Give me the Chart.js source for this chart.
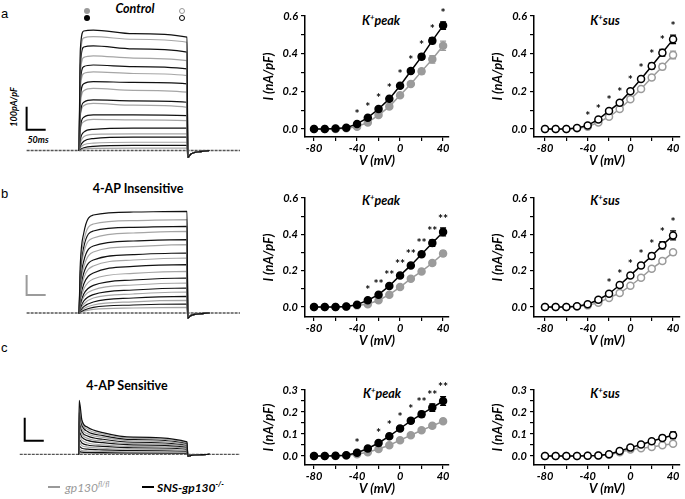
<!DOCTYPE html>
<html>
<head>
<meta charset="utf-8">
<script src="https://cdn.jsdelivr.net/npm/chart.js@4.4.1/dist/chart.umd.min.js"></script>
<style>
  body { margin: 0; background: #fff; }
  #fig { position: relative; width: 685px; height: 499px; overflow: hidden; background: #fff; font-family: Lato, "Open Sans", sans-serif; }
  canvas { position: absolute; }
  .t { position: absolute; white-space: nowrap; transform: translate(-50%, -50%); font-weight: bold; color: #000; }
  .it { font-style: italic; }
  .panel { position: absolute; font-family: "Liberation Sans", sans-serif; font-size: 13px; transform: translateY(-50%); }
  .dot { position: absolute; width: 6px; height: 6px; border-radius: 50%; box-sizing: border-box; }
  .legline { position: absolute; height: 2px; }
  sup { font-size: 0.62em; vertical-align: 0.55em; line-height: 0; }
</style>
</head>
<body>
<div id="fig">
  <div class="panel" style="left:1px;top:13px">a</div>
  <div class="panel" style="left:1px;top:193px">b</div>
  <div class="panel" style="left:1px;top:347px">c</div>

  <div class="t it" style="left:135px;top:8px;font-size:12.5px">Control</div>
  <div class="dot" style="left:84px;top:8px;background:#999"></div>
  <div class="dot" style="left:84px;top:15px;background:#000"></div>
  <div class="dot" style="left:179px;top:8px;border:1.5px solid #999;background:#fff"></div>
  <div class="dot" style="left:179px;top:15px;border:1.5px solid #000;background:#fff"></div>
  <div class="t it" style="left:13px;top:107px;font-size:9px;transform:translate(-50%,-50%) rotate(-90deg)">100pA/pF</div>
  <div class="t it" style="left:38px;top:139px;font-size:9px">50ms</div>

  <div class="t" style="left:138px;top:188px;font-size:12.5px">4-AP Insensitive</div>
  <div class="t" style="left:127px;top:385px;font-size:12.5px">4-AP Sensitive</div>

  <div class="legline" style="left:48px;top:486px;width:12px;background:#999"></div>
  <div class="t it" style="left:65px;top:487px;transform:translateY(-50%);font-size:12px;font-weight:normal;color:#999">gp130<sup>fl/fl</sup></div>
  <div class="legline" style="left:142px;top:486px;width:12px;background:#000"></div>
  <div class="t it" style="left:157px;top:487px;transform:translateY(-50%);font-size:12px">SNS-gp130<sup>-/-</sup></div>

  <div class="t it" style="left:381px;top:20px;font-size:12.5px">K<sup>+</sup>peak</div>
  <div class="t it" style="left:605px;top:20px;font-size:12.5px">K<sup>+</sup>sus</div>
  <div class="t it" style="left:381px;top:200px;font-size:12.5px">K<sup>+</sup>peak</div>
  <div class="t it" style="left:605px;top:200px;font-size:12.5px">K<sup>+</sup>sus</div>
  <div class="t it" style="left:382px;top:393px;font-size:12.5px">K<sup>+</sup>peak</div>
  <div class="t it" style="left:605px;top:393px;font-size:12.5px">K<sup>+</sup>sus</div>
</div>
<script>
const BLACK = "#000000";
const GREY = "#9b9b9b";
const TRACE_GREY = "#a6a6a6";

// test potentials (mV)
const voltages = [-80, -70, -60, -50, -40, -30, -20, -10, 0, 10, 20, 30, 40];

// a: control
const aPeakKo = [0, 0, 0.002, 0.007, 0.027, 0.060, 0.106, 0.160, 0.230, 0.308, 0.384, 0.469, 0.549];
const aPeakKoErr = [0, 0, 0, 0.002, 0.004, 0.006, 0.008, 0.010, 0.011, 0.012, 0.013, 0.016, 0.020];
const aPeakFl = [0, 0, 0, 0.004, 0.012, 0.035, 0.074, 0.119, 0.179, 0.239, 0.306, 0.370, 0.442];
const aPeakFlErr = [0, 0, 0, 0.002, 0.003, 0.005, 0.007, 0.009, 0.010, 0.012, 0.014, 0.020, 0.025];
const aPeakStars = ["", "", "", "", "*", "*", "*", "*", "*", "*", "*", "*", "*"];
const aSusKo = [0, 0, 0, 0.005, 0.019, 0.051, 0.096, 0.140, 0.200, 0.265, 0.334, 0.405, 0.476];
const aSusKoErr = [0, 0, 0, 0.002, 0.003, 0.005, 0.007, 0.009, 0.010, 0.012, 0.015, 0.018, 0.022];
const aSusFl = [0, 0, 0, 0.004, 0.012, 0.035, 0.065, 0.106, 0.158, 0.212, 0.274, 0.331, 0.393];
const aSusFlErr = [0, 0, 0, 0.002, 0.003, 0.004, 0.006, 0.008, 0.010, 0.011, 0.013, 0.016, 0.020];
const aSusStars = ["", "", "", "", "*", "*", "*", "*", "*", "*", "*", "*", "*"];

// b: 4-AP insensitive
const bPeakKo = [0, 0, 0, 0.003, 0.013, 0.037, 0.068, 0.116, 0.174, 0.229, 0.290, 0.352, 0.413];
const bPeakKoErr = [0, 0, 0, 0.002, 0.003, 0.005, 0.006, 0.008, 0.010, 0.011, 0.013, 0.018, 0.022];
const bPeakFl = [0, 0, 0, 0.002, 0.009, 0.015, 0.037, 0.068, 0.110, 0.156, 0.196, 0.242, 0.294];
const bPeakFlErr = [0, 0, 0, 0.001, 0.002, 0.003, 0.005, 0.006, 0.008, 0.009, 0.011, 0.013, 0.015];
const bPeakStars = ["", "", "", "", "", "*", "**", "**", "**", "**", "**", "**", "**"];
const bSusKo = [0, 0, 0, 0.004, 0.015, 0.040, 0.073, 0.121, 0.174, 0.228, 0.281, 0.340, 0.394];
const bSusKoErr = [0, 0, 0, 0.002, 0.003, 0.005, 0.007, 0.009, 0.011, 0.013, 0.016, 0.020, 0.025];
const bSusFl = [0, 0, 0, 0.003, 0.009, 0.024, 0.050, 0.077, 0.117, 0.161, 0.211, 0.253, 0.301];
const bSusFlErr = [0, 0, 0, 0.001, 0.002, 0.003, 0.005, 0.006, 0.008, 0.009, 0.011, 0.013, 0.015];
const bSusStars = ["", "", "", "", "", "", "*", "*", "*", "*", "*", "*", "*"];

// c: 4-AP sensitive
const cPeakKo = [0, 0, 0.001, 0.003, 0.015, 0.034, 0.059, 0.090, 0.125, 0.160, 0.190, 0.220, 0.250];
const cPeakKoErr = [0, 0, 0, 0.002, 0.003, 0.004, 0.006, 0.008, 0.010, 0.011, 0.013, 0.017, 0.020];
const cPeakFl = [0, 0, 0, 0.002, 0.008, 0.017, 0.032, 0.049, 0.072, 0.094, 0.117, 0.137, 0.158];
const cPeakFlErr = [0, 0, 0, 0.001, 0.002, 0.003, 0.004, 0.005, 0.006, 0.007, 0.008, 0.009, 0.010];
const cPeakStars = ["", "", "", "", "*", "", "*", "*", "*", "*", "**", "**", "**"];
const cSusKo = [0, 0, 0, 0, 0.001, 0.002, 0.008, 0.023, 0.038, 0.052, 0.067, 0.082, 0.094];
const cSusKoErr = [0, 0, 0, 0, 0.001, 0.001, 0.002, 0.003, 0.004, 0.005, 0.008, 0.012, 0.015];
const cSusFl = [0, 0, 0, 0, 0.001, 0.002, 0.006, 0.017, 0.029, 0.035, 0.041, 0.049, 0.056];
const cSusFlErr = [0, 0, 0, 0, 0.001, 0.001, 0.002, 0.002, 0.003, 0.003, 0.004, 0.005, 0.006];
const cSusStars = ["", "", "", "", "", "", "", "", "", "", "", "", ""];

// example current traces (pA/pF), sampled at traceTimes (ms) during the step
const traceTimesAB = [141, 150, 175, 280, 421];
const traceTimesC = [138, 145, 160, 200, 280, 421];
const tailTimes = [423, 432, 460, 480];

const aTraceKo = [
  [440, 520, 524, 508, 493], [370, 450, 455, 442, 428], [300, 365, 372, 365, 355],
  [230, 290, 300, 296, 290], [160, 210, 220, 216, 210], [100, 145, 155, 155, 152],
  [50, 80, 92, 97, 97], [20, 40, 52, 58, 58], [5, 12, 18, 22, 22]
];
const aTraceFl = [
  [400, 490, 495, 484, 471], [330, 405, 412, 402, 391], [270, 335, 342, 335, 326],
  [200, 260, 270, 262, 254], [150, 195, 205, 197, 188], [90, 125, 135, 133, 130],
  [35, 60, 70, 72, 72], [12, 25, 32, 36, 36], [3, 6, 9, 10, 10]
];
const aTail = [-30, -14, -4, 0];

const bTraceKo = [
  [250, 400, 490, 505, 508], [200, 330, 410, 428, 433], [150, 260, 335, 360, 367],
  [110, 200, 265, 292, 300], [75, 145, 200, 233, 242], [45, 95, 138, 165, 175],
  [25, 60, 92, 115, 125], [12, 32, 55, 75, 83], [5, 14, 28, 40, 45]
];
const bTraceFl = [
  [220, 360, 445, 462, 467], [180, 300, 375, 400, 408], [130, 230, 305, 332, 342],
  [95, 175, 235, 265, 275], [60, 120, 170, 198, 208], [38, 80, 115, 140, 150],
  [20, 45, 75, 95, 105], [8, 22, 40, 56, 63], [3, 9, 18, 25, 28]
];
const bTail = [-25, -12, -3, 0];

const cTraceKo = [
  [236, 150, 118, 95, 75, 55], [185, 128, 100, 82, 65, 48], [140, 100, 80, 66, 53, 40],
  [100, 75, 61, 51, 42, 32], [65, 50, 41, 35, 29, 23], [35, 27, 23, 20, 17, 14],
  [12, 10, 9, 8, 7, 6]
];
const cTraceFl = [
  [210, 140, 110, 89, 70, 52], [160, 112, 90, 74, 59, 44], [120, 88, 70, 58, 47, 36],
  [82, 62, 50, 42, 35, 27], [50, 38, 32, 27, 23, 18], [22, 17, 15, 13, 11, 9],
  [6, 5, 5, 4, 4, 3]
];
const cTail = [-8, -4, -1, 0];

const fig = document.getElementById("fig");

function addCanvas(left, top, width, height) {
  const c = document.createElement("canvas");
  c.width = width;
  c.height = height;
  c.style.left = left + "px";
  c.style.top = top + "px";
  c.style.width = width + "px";
  c.style.height = height + "px";
  fig.appendChild(c);
  return c;
}

const errorBars = {
  id: "errorBars",
  beforeDatasetsDraw(chart) {
    const ctx = chart.ctx;
    const ys = chart.scales.y;
    chart.data.datasets.forEach((ds, di) => {
      const meta = chart.getDatasetMeta(di);
      ctx.save();
      ctx.strokeStyle = ds.borderColor;
      ctx.lineWidth = 1.3;
      meta.data.forEach((pt, i) => {
        const e = ds.errors[i];
        if (!e) return;
        const v = ds.data[i].y;
        const top = ys.getPixelForValue(v + e);
        const bot = ys.getPixelForValue(v - e);
        ctx.beginPath();
        ctx.moveTo(pt.x, top); ctx.lineTo(pt.x, bot);
        ctx.moveTo(pt.x - 3, top); ctx.lineTo(pt.x + 3, top);
        ctx.moveTo(pt.x - 3, bot); ctx.lineTo(pt.x + 3, bot);
        ctx.stroke();
      });
      ctx.restore();
    });
  }
};

function ivChart(area, yMax, yMin, yStep, yLabelStep, xMin, xMax, ko, koErr, fl, flErr, stars, open) {
  const [L, T, R, B] = area;
  const padTop = 14;
  const canvas = addCanvas(L - 48, T - padTop, R - L + 54, B - T + padTop + 36);
  const font = { family: "Lato", size: 11, weight: "bold", style: "italic" };
  const titleFont = { family: "Lato", size: 13, weight: "bold", style: "italic" };
  const pts = (vals) => voltages.map((v, i) => ({ x: v, y: vals[i] }));
  const ds = (vals, errs, color) => ({
    data: pts(vals),
    errors: errs,
    borderColor: color,
    backgroundColor: color,
    borderWidth: 1.5,
    pointRadius: 3.5,
    pointBorderWidth: 1.5,
    pointBackgroundColor: open ? "#ffffff" : color,
    pointBorderColor: color,
    tension: 0,
    clip: false
  });
  const starMarks = {
    id: "stars",
    afterDatasetsDraw(chart) {
      const ctx = chart.ctx;
      const xs = chart.scales.x, ys = chart.scales.y;
      ctx.save();
      ctx.fillStyle = BLACK;
      ctx.font = "bold 12px Lato";
      ctx.textAlign = "center";
      ctx.textBaseline = "middle";
      stars.forEach((s, i) => {
        if (!s) return;
        const top = ys.getPixelForValue(ko[i] + koErr[i]);
        ctx.fillText(s, xs.getPixelForValue(voltages[i]), top - 9);
      });
      ctx.restore();
    }
  };
  return new Chart(canvas, {
    type: "line",
    data: { datasets: [ds(ko, koErr, BLACK), ds(fl, flErr, GREY)] },
    options: {
      responsive: false,
      animation: false,
      devicePixelRatio: 1,
      layout: { padding: { left: 0, right: 6, top: padTop, bottom: 0 } },
      plugins: { legend: false, tooltip: { enabled: false } },
      scales: {
        x: {
          type: "linear",
          min: xMin,
          max: xMax,
          afterFit: (s) => { s.height = 36; },
          border: { display: true, color: BLACK, width: 1.5 },
          grid: { drawOnChartArea: false, drawTicks: true, tickLength: 4, color: BLACK, lineWidth: 1.2 },
          ticks: {
            stepSize: 20,
            autoSkip: false,
            maxRotation: 0,
            includeBounds: false,
            padding: 1,
            color: BLACK,
            font,
            callback: (v) => (v % 40 === 0 ? String(v) : "")
          },
          title: { display: true, text: "V (mV)", color: BLACK, font: titleFont, padding: { top: 0, bottom: 4 } }
        },
        y: {
          min: yMin,
          max: yMax,
          afterFit: (s) => { s.width = 48; },
          border: { display: true, color: BLACK, width: 1.5 },
          grid: { drawOnChartArea: false, drawTicks: true, tickLength: 4, color: BLACK, lineWidth: 1.2 },
          ticks: {
            stepSize: yStep,
            autoSkip: false,
            includeBounds: false,
            padding: 3,
            color: BLACK,
            font,
            callback: (v) => {
              const r = v / yLabelStep;
              return Math.abs(r - Math.round(r)) < 1e-6 ? v.toFixed(1) : "";
            }
          },
          title: { display: true, text: "I (nA/pF)", color: BLACK, font: titleFont, padding: { top: 4, bottom: 0 } }
        }
      }
    },
    plugins: [errorBars, starMarks]
  });
}

function traceChart(box, yMin, yMax, times, koTraces, flTraces, tail, startT, bar) {
  const [left, top, width, height] = box;
  const canvas = addCanvas(left, top, width, height);
  const build = (vals) => {
    const pts = [{ x: 135, y: 0 }, { x: 137, y: 0 }];
    times.forEach((t, i) => pts.push({ x: t, y: vals[i] }));
    tailTimes.forEach((t, i) => pts.push({ x: t, y: tail[i] }));
    return pts;
  };
  const ds = (vals, color) => ({
    data: build(vals),
    borderColor: color,
    borderWidth: 1.2,
    pointRadius: 0,
    cubicInterpolationMode: "monotone",
    clip: false
  });
  const scaleBar = {
    id: "scaleBar",
    afterDatasetsDraw(chart) {
      const ctx = chart.ctx;
      const xs = chart.scales.x, ys = chart.scales.y;
      const x0 = xs.getPixelForValue(bar.t), x1 = xs.getPixelForValue(bar.t + 50);
      const y0 = ys.getPixelForValue(bar.i), y1 = ys.getPixelForValue(bar.i + 100);
      ctx.save();
      ctx.strokeStyle = bar.color;
      ctx.lineWidth = 2;
      ctx.beginPath();
      ctx.moveTo(x0, y1); ctx.lineTo(x0, y0); ctx.lineTo(x1, y0);
      ctx.stroke();
      ctx.restore();
    }
  };
  // interleave so grey and black steps alternate, black drawn above
  const datasets = [];
  koTraces.forEach((v, i) => {
    datasets.push(ds(v, "#111111"));
    if (flTraces[i]) datasets.push(ds(flTraces[i], TRACE_GREY));
  });
  // holding-current baseline (0 pA/pF) across the whole sweep
  datasets.push({
    data: [{ x: startT, y: 0 }, { x: 560, y: 0 }],
    borderColor: "#555555",
    borderWidth: 1.3,
    borderDash: [3, 1],
    pointRadius: 0,
    clip: false
  });
  return new Chart(canvas, {
    type: "line",
    data: { datasets },
    options: {
      responsive: false,
      animation: false,
      devicePixelRatio: 1,
      layout: { padding: 0 },
      plugins: { legend: false, tooltip: { enabled: false } },
      scales: {
        x: { type: "linear", min: -20, max: 560, display: false },
        y: { min: yMin, max: yMax, display: false }
      }
    },
    plugins: [scaleBar]
  });
}

// traces
traceChart([19, 22, 221, 140], -50, 559, traceTimesAB, aTraceKo, aTraceFl, aTail, 0, { t: 0, i: 90, color: BLACK });
traceChart([19, 205, 221, 118], -50, 540, traceTimesAB, bTraceKo, bTraceFl, bTail, 0, { t: 0, i: 90, color: GREY });
traceChart([19, 392, 221, 70], -33, 272, traceTimesC, cTraceKo, cTraceFl, cTail, -18, { t: -5, i: 60, color: BLACK });

// I-V curves
ivChart([305, 16, 449, 137], 0.6, -0.0425, 0.1, 0.2, -88.4, 45.5, aPeakKo, aPeakKoErr, aPeakFl, aPeakFlErr, aPeakStars, false);
ivChart([534, 16, 680, 137], 0.6, -0.0425, 0.1, 0.2, -90.3, 46.5, aSusKo, aSusKoErr, aSusFl, aSusFlErr, aSusStars, true);
ivChart([305, 198, 449, 317], 0.6, -0.055, 0.1, 0.2, -88.4, 45.5, bPeakKo, bPeakKoErr, bPeakFl, bPeakFlErr, bPeakStars, false);
ivChart([534, 198, 680, 317], 0.6, -0.055, 0.1, 0.2, -90.3, 46.5, bSusKo, bSusKoErr, bSusFl, bSusFlErr, bSusStars, true);
ivChart([305, 390, 449, 465], 0.3, -0.041, 0.05, 0.1, -88.4, 45.5, cPeakKo, cPeakKoErr, cPeakFl, cPeakFlErr, cPeakStars, false);
ivChart([534, 390, 680, 465], 0.3, -0.041, 0.05, 0.1, -90.3, 46.5, cSusKo, cSusKoErr, cSusFl, cSusFlErr, cSusStars, true);
</script>
</body>
</html>
